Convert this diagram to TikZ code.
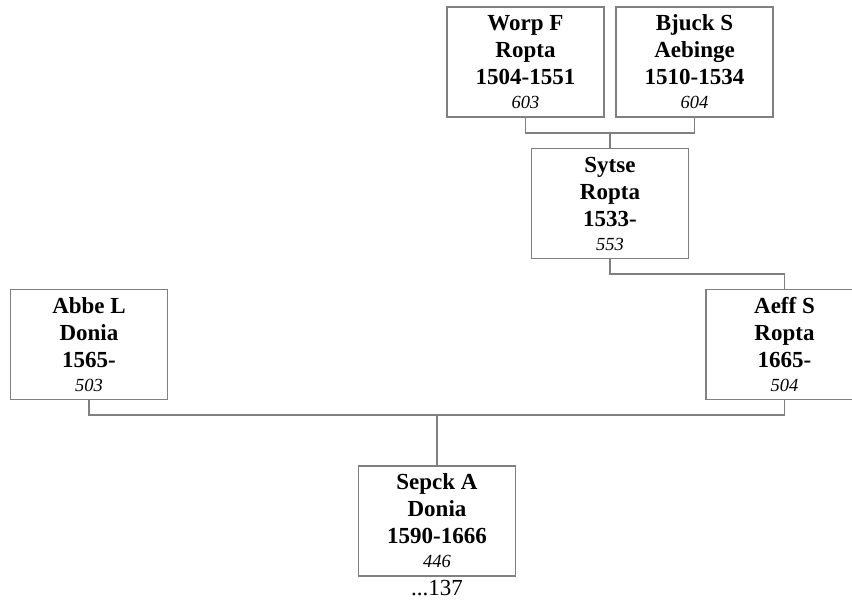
\documentclass[tikz,border=0pt]{standalone}
\usepackage{fontspec}
\setmainfont{Liberation Serif}
\begin{document}
\begin{tikzpicture}[x=1pt,y=-1pt,
  person/.style={draw=black!50,line width=1.3pt,minimum width=157pt,minimum height=110pt,
    align=center,inner sep=0pt,font=\fontsize{23}{27}\selectfont\bfseries},
  link/.style={draw=black!50,line width=1.3pt}]
\useasboundingbox (0,0) rectangle (852,604);
\clip (0,0) rectangle (852,604);
\newcommand{\refno}[1]{{\fontsize{18.5}{22}\selectfont\mdseries\itshape #1}}
\node[person] (worp) at (525.5,62) {Worp F\\Ropta\\1504-1551\\[-3pt]\refno{603}};
\node[person] (bjuck) at (694.5,62) {Bjuck S\\Aebinge\\1510-1534\\[-3pt]\refno{604}};
\node[person] (sytse) at (610,203.5) {Sytse\\Ropta\\1533-\\[-3pt]\refno{553}};
\node[person] (abbe) at (89,344.5) {Abbe L\\Donia\\1565-\\[-3pt]\refno{503}};
\node[person] (aeff) at (784.5,344.5) {Aeff S\\Ropta\\1665-\\[-3pt]\refno{504}};
\node[person] (sepck) at (437,521) {Sepck A\\Donia\\1590-1666\\[-3pt]\refno{446}};
\node[anchor=north,inner sep=0pt,font=\fontsize{23}{27}\selectfont] (more) at ([yshift=-3pt]sepck.south) {...137};
\coordinate (j1) at (610,133);
\coordinate (j2) at (610,274);
\coordinate (j3) at (437,415);
\draw[link] (worp.south) |- (j1) -| (bjuck.south);
\draw[link] (j1) -- (sytse.north);
\draw[link] (sytse.south) |- (j2) -| (aeff.north);
\draw[link] (abbe.south) |- (j3) -| (aeff.south);
\draw[link] (j3) -- (sepck.north);
\end{tikzpicture}
\end{document}
